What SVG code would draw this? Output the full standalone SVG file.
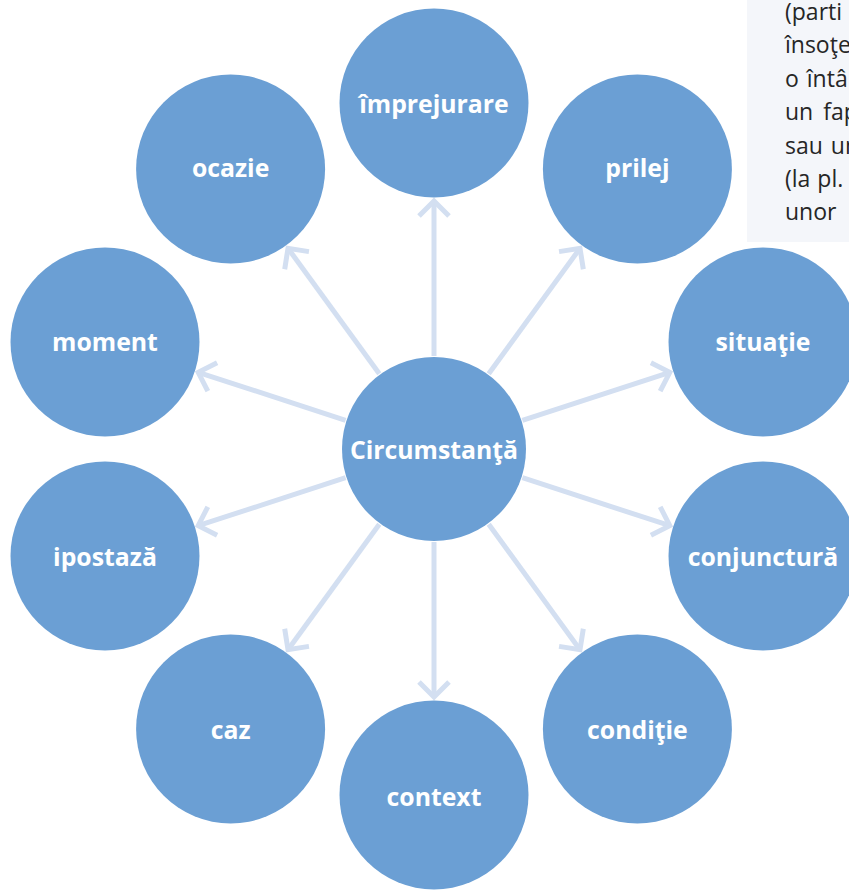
<svg xmlns="http://www.w3.org/2000/svg" width="849" height="890" viewBox="0 0 849 890">
<style>
.node{fill:#6b9fd4}
.lbl{font-family:"Open Sans","Noto Sans",sans-serif;font-weight:bold;font-size:24.8px;fill:#ffffff;text-anchor:middle;dominant-baseline:central}
.con{stroke:#d3dff1;stroke-width:5;fill:none;marker-end:url(#arr)}
.note{font-family:"Open Sans","Noto Sans",sans-serif;font-size:23px;fill:#262626}
</style>
<defs>
<marker id="arr" markerUnits="userSpaceOnUse" markerWidth="40" markerHeight="40" viewBox="-30 -20 40 40" refX="0" refY="0" orient="auto">
<path d="M-15,-15 L0,0 L-15,15" stroke="#d3dff1" stroke-width="5" fill="none"/>
</marker>
</defs>
<rect x="747" y="0" width="102" height="242" fill="#f4f6fa"/>
<g id="note">
<text class="note" x="785" y="20">(parti</text>
<text class="note" x="785" y="53">însoţe</text>
<text class="note" x="785" y="87" word-spacing="2">o întâ</text>
<text class="note" x="785" y="120" word-spacing="4">un fap</text>
<text class="note" x="785" y="154" word-spacing="2">sau un</text>
<text class="note" x="785" y="187" word-spacing="1">(la pl.</text>
<text class="note" x="785" y="220">unor</text>
</g>
<g id="connectors">
<line class="con" x1="434" y1="356" x2="434" y2="201"/>
<line class="con" x1="488.7" y1="373.8" x2="580.0" y2="248.3"/>
<line class="con" x1="522.4" y1="420.3" x2="669.8" y2="372.3"/>
<line class="con" x1="522.4" y1="477.7" x2="669.8" y2="525.7"/>
<line class="con" x1="488.7" y1="524.2" x2="580.0" y2="649.7"/>
<line class="con" x1="434" y1="542" x2="434" y2="697"/>
<line class="con" x1="379.3" y1="524.2" x2="288.0" y2="649.7"/>
<line class="con" x1="345.6" y1="477.7" x2="198.2" y2="525.7"/>
<line class="con" x1="345.6" y1="420.3" x2="198.2" y2="372.3"/>
<line class="con" x1="379.3" y1="373.8" x2="288.0" y2="248.3"/>
</g>
<g id="center"><circle class="node" cx="434" cy="449" r="92"/><text class="lbl" x="434" y="449">Circumstanţă</text></g>
<g id="n1"><circle class="node" cx="434" cy="103" r="94.5"/><text class="lbl" x="434" y="103">împrejurare</text></g>
<g id="n2"><circle class="node" cx="637.4" cy="169" r="94.5"/><text class="lbl" x="637.4" y="167">prilej</text></g>
<g id="n3"><circle class="node" cx="763" cy="342" r="94.5"/><text class="lbl" x="763" y="341">situaţie</text></g>
<g id="n4"><circle class="node" cx="763" cy="556" r="94.5"/><text class="lbl" x="763" y="556">conjunctură</text></g>
<g id="n5"><circle class="node" cx="637.4" cy="729" r="94.5"/><text class="lbl" x="637.4" y="729">condiţie</text></g>
<g id="n6"><circle class="node" cx="434" cy="795" r="94.5"/><text class="lbl" x="434" y="796">context</text></g>
<g id="n7"><circle class="node" cx="230.6" cy="729" r="94.5"/><text class="lbl" x="230.6" y="729">caz</text></g>
<g id="n8"><circle class="node" cx="105" cy="556" r="94.5"/><text class="lbl" x="105" y="556">ipostază</text></g>
<g id="n9"><circle class="node" cx="105" cy="342" r="94.5"/><text class="lbl" x="105" y="341">moment</text></g>
<g id="n10"><circle class="node" cx="230.6" cy="169" r="94.5"/><text class="lbl" x="230.6" y="167">ocazie</text></g>
</svg>
